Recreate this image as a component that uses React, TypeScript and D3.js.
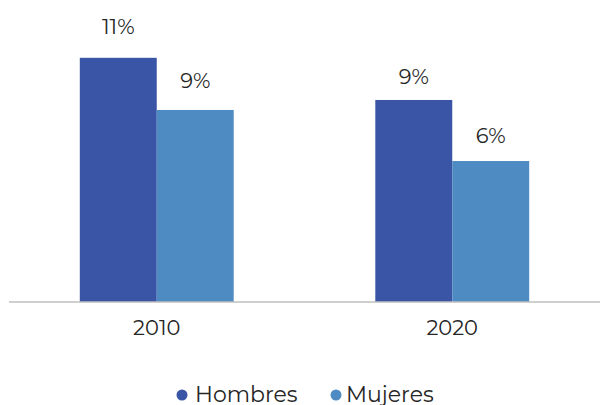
import React from "react";
import * as d3 from "d3";

const categories = ["2010", "2020"];
const seriesNames = ["Hombres", "Mujeres"];
const hombres = [11.0, 9.1];
const mujeres = [8.65, 6.35];
const hombresLabels = ["11%", "9%"];
const mujeresLabels = ["9%", "6%"];
const colors = ["#3A55A5", "#4F8BC3"];

// label gaps above bar tops (layout)
const labelGaps = [
  [24, 16],
  [22, 18],
];

const W = 600;
const H = 405;
const FONT = "Montserrat, 'Open Sans', sans-serif";

export default function App() {
  const x0 = d3.scaleBand<string>().domain(categories).range([9, 600]).paddingInner(0).paddingOuter(0);
  const x1 = d3.scaleBand<string>().domain(seriesNames).range([0, x0.bandwidth()]).paddingInner(0).paddingOuter(0.92);
  const y = d3.scaleLinear().domain([0, 12]).range([302, 302 - 12 * 22.2]);
  const values = [hombres, mujeres];
  const labels = [hombresLabels, mujeresLabels];
  const legendCx = [182, 336];
  const legendTx = [195, 346];

  return (
    <svg width={W} height={H} style={{ position: "absolute", left: 0, top: 0 }}>
      <rect width={W} height={H} fill="#fff" />
      {seriesNames.map((s, si) =>
        categories.map((c, ci) => {
          const v = values[si][ci];
          const bx = (x0(c) as number) + (x1(s) as number);
          return (
            <g key={s + c}>
              <rect x={bx} y={y(v)} width={x1.bandwidth()} height={y(0) - y(v)} fill={colors[si]} />
              <text
                x={bx + x1.bandwidth() / 2}
                y={y(v) - labelGaps[si][ci]}
                textAnchor="middle"
                fontFamily={FONT}
                fontSize={21}
                fill="#262626"
              >
                {labels[si][ci]}
              </text>
            </g>
          );
        })
      )}
      <line x1={9} x2={600} y1={y(0)} y2={y(0)} stroke="#BFBFBF" strokeWidth={1.5} />
      {categories.map((c) => (
        <text
          key={c}
          x={(x0(c) as number) + x0.bandwidth() / 2}
          y={335}
          textAnchor="middle"
          fontFamily={FONT}
          fontSize={21}
          fill="#262626"
        >
          {c}
        </text>
      ))}
      {seriesNames.map((s, i) => (
        <g key={s}>
          <circle cx={legendCx[i]} cy={395} r={5.5} fill={colors[i]} />
          <text x={legendTx[i]} y={402} fontFamily={FONT} fontSize={22} fill="#262626">
            {s}
          </text>
        </g>
      ))}
    </svg>
  );
}
